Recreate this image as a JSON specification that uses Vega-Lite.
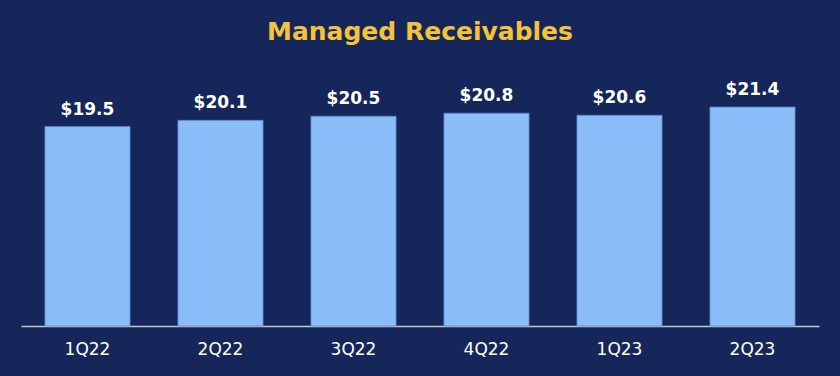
{
  "$schema": "https://vega.github.io/schema/vega-lite/v6.json",
  "width": 798,
  "height": 266,
  "autosize": {"type": "none"},
  "padding": {"left": 21, "top": 60, "right": 21, "bottom": 50},
  "background": "#15275A",
  "title": {
    "text": "Managed Receivables",
    "color": "#F5C33B",
    "font": "DejaVu Sans",
    "fontWeight": "bold",
    "fontSize": 25,
    "anchor": "middle",
    "offset": 15
  },
  "config": {"view": {"stroke": null}},
  "data": {
    "values": [
      {"quarter": "1Q22", "value": 19.5, "label": "$19.5"},
      {"quarter": "2Q22", "value": 20.1, "label": "$20.1"},
      {"quarter": "3Q22", "value": 20.5, "label": "$20.5"},
      {"quarter": "4Q22", "value": 20.8, "label": "$20.8"},
      {"quarter": "1Q23", "value": 20.6, "label": "$20.6"},
      {"quarter": "2Q23", "value": 21.4, "label": "$21.4"}
    ]
  },
  "encoding": {
    "x": {
      "field": "quarter",
      "type": "nominal",
      "sort": null,
      "scale": {"paddingInner": 0.36, "paddingOuter": 0.18},
      "axis": {
        "title": null,
        "labelAngle": 0,
        "labelColor": "#FFFFFF",
        "labelFont": "DejaVu Sans",
        "labelFontSize": 17,
        "labelPadding": 15,
        "ticks": false,
        "domainColor": "#C4C6CE",
        "domainWidth": 1.5
      }
    },
    "y": {
      "field": "value",
      "type": "quantitative",
      "scale": {"domain": [0, 26], "nice": false},
      "axis": null
    }
  },
  "layer": [
    {
      "mark": {"type": "bar", "color": "#8BBDF8", "stroke": "#5A86C8", "strokeWidth": 0.8}
    },
    {
      "mark": {"type": "text", "color": "#FFFFFF", "font": "DejaVu Sans", "fontWeight": "bold", "fontSize": 17, "baseline": "alphabetic", "dy": -12},
      "encoding": {"text": {"field": "label"}}
    }
  ]
}
